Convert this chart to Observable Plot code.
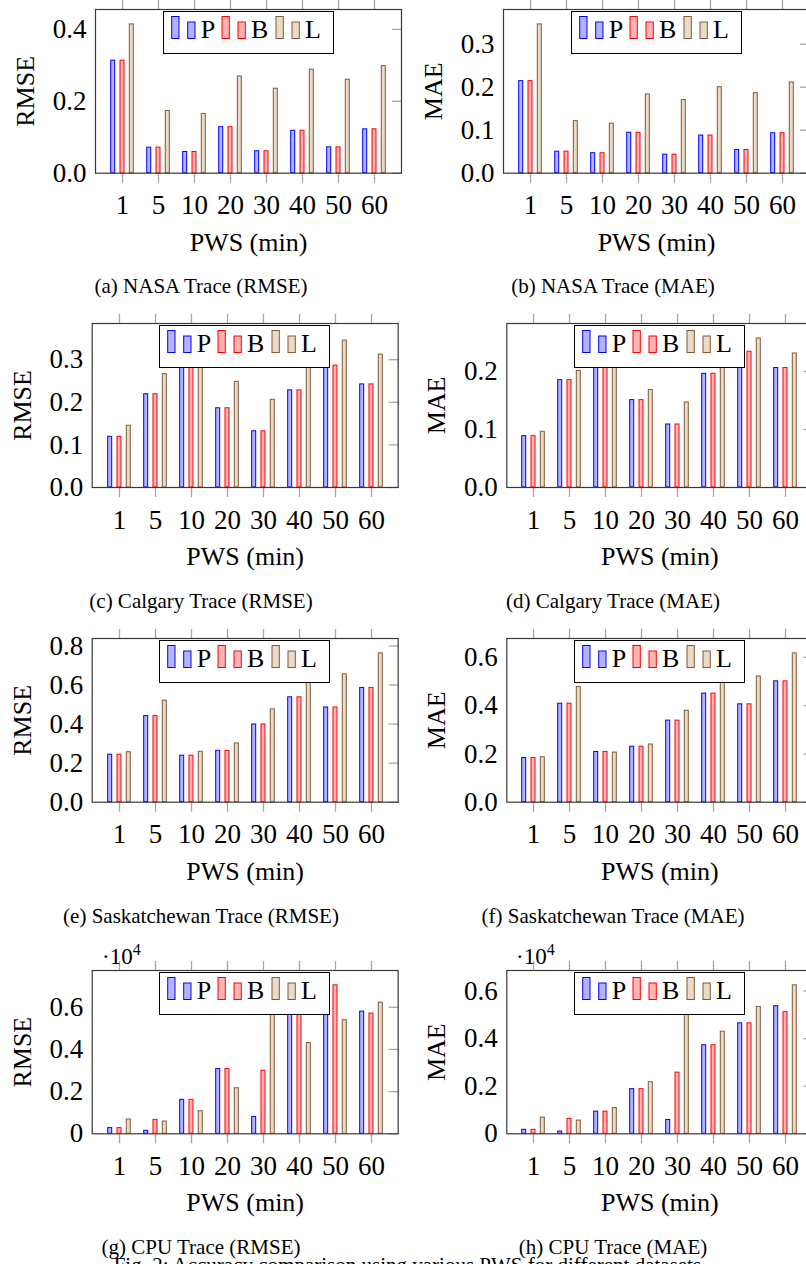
<!DOCTYPE html>
<html>
<head>
<meta charset="utf-8">
<script src="https://cdn.jsdelivr.net/npm/d3@7"></script>
<script src="https://cdn.jsdelivr.net/npm/@observablehq/plot@0.6"></script>
<style>
html, body { margin: 0; padding: 0; background: #fff; }
#page { position: relative; width: 806px; height: 1264px; overflow: hidden; background: #fff;
        font-family: "Liberation Serif", "Times New Roman", serif; color: #000; }
.caption { position: absolute; font-family: "Liberation Serif", serif; font-size: 21px; line-height: 21px; white-space: nowrap; transform: translateX(-50%); }
.legend { position: absolute; width: 171px; height: 43px; box-sizing: border-box; border: 1.2px solid #000; background: #fff; }
.legend svg, .expo { position: absolute; left: 0; top: 0; overflow: visible; }
svg text { font-family: "Liberation Serif", serif; }
</style>
</head>
<body>
<div id="page"></div>
<script>
// ---------- data ----------
const pwsLabels = ["1", "5", "10", "20", "30", "40", "50", "60"];
const seriesNames = ["P", "B", "L"];

// (a) NASA RMSE
const nasaRmseP = [0.313, 0.071, 0.059, 0.128, 0.061, 0.118, 0.072, 0.122];
const nasaRmseB = [0.313, 0.071, 0.059, 0.128, 0.061, 0.118, 0.072, 0.122];
const nasaRmseL = [0.414, 0.173, 0.165, 0.269, 0.235, 0.288, 0.260, 0.298];
// (b) NASA MAE
const nasaMaeP = [0.214, 0.050, 0.0465, 0.094, 0.043, 0.0876, 0.054, 0.093];
const nasaMaeB = [0.214, 0.050, 0.0465, 0.094, 0.043, 0.0876, 0.054, 0.093];
const nasaMaeL = [0.346, 0.121, 0.115, 0.183, 0.170, 0.200, 0.186, 0.211];
// (c) Calgary RMSE
const calgRmseP = [0.119, 0.219, 0.305, 0.186, 0.132, 0.228, 0.286, 0.242];
const calgRmseB = [0.119, 0.219, 0.305, 0.186, 0.132, 0.228, 0.286, 0.242];
const calgRmseL = [0.145, 0.266, 0.350, 0.248, 0.206, 0.300, 0.345, 0.312];
// (d) Calgary MAE
const calgMaeP = [0.0885, 0.185, 0.220, 0.1506, 0.1086, 0.196, 0.234, 0.206];
const calgMaeB = [0.0885, 0.185, 0.220, 0.1506, 0.1086, 0.196, 0.234, 0.206];
const calgMaeL = [0.096, 0.201, 0.235, 0.168, 0.1466, 0.215, 0.257, 0.231];
// (e) Saskatchewan RMSE
const saskRmseP = [0.243, 0.441, 0.238, 0.263, 0.398, 0.537, 0.485, 0.585];
const saskRmseB = [0.243, 0.441, 0.238, 0.263, 0.398, 0.537, 0.485, 0.585];
const saskRmseL = [0.256, 0.520, 0.258, 0.301, 0.475, 0.620, 0.655, 0.762];
// (f) Saskatchewan MAE
const saskMaeP = [0.183, 0.408, 0.208, 0.230, 0.338, 0.450, 0.4055, 0.5007];
const saskMaeB = [0.183, 0.408, 0.208, 0.230, 0.338, 0.450, 0.4055, 0.5007];
const saskMaeL = [0.186, 0.477, 0.2055, 0.239, 0.379, 0.510, 0.521, 0.6166];
// (g) CPU RMSE (x 10^4)
const cpuRmseP = [0.027, 0.014, 0.161, 0.307, 0.080, 0.600, 0.600, 0.5795];
const cpuRmseB = [0.027, 0.066, 0.161, 0.307, 0.299, 0.600, 0.704, 0.570];
const cpuRmseL = [0.068, 0.058, 0.107, 0.216, 0.620, 0.430, 0.5386, 0.622];
// (h) CPU MAE (x 10^4)
const cpuMaeP = [0.0167, 0.0097, 0.093, 0.1875, 0.058, 0.372, 0.464, 0.536];
const cpuMaeB = [0.0167, 0.0625, 0.093, 0.1875, 0.257, 0.372, 0.464, 0.511];
const cpuMaeL = [0.068, 0.0556, 0.108, 0.2167, 0.550, 0.429, 0.533, 0.6236];

const ticksA = [0, 0.2, 0.4];
const ticksB = [0, 0.1, 0.2, 0.3];
const ticksC = [0, 0.1, 0.2, 0.3];
const ticksD = [0, 0.1, 0.2];
const ticksE = [0, 0.2, 0.4, 0.6, 0.8];
const ticksF = [0, 0.2, 0.4, 0.6];
const ticksG = [0, 0.2, 0.4, 0.6];
const ticksH = [0, 0.2, 0.4, 0.6];

const captions = [
  "(a) NASA Trace (RMSE)", "(b) NASA Trace (MAE)",
  "(c) Calgary Trace (RMSE)", "(d) Calgary Trace (MAE)",
  "(e) Saskatchewan Trace (RMSE)", "(f) Saskatchewan Trace (MAE)",
  "(g) CPU Trace (RMSE)", "(h) CPU Trace (MAE)"
];
const figCaption = "Fig. 2: Accuracy comparison using various PWS for different datasets.";

// ---------- styles ----------
const fills = {P: "#b3b3ff", B: "#ffb3b3", L: "#ecd9c6"};
const strokes = {P: "#0000ff", B: "#ff0000", L: "#7f5b38"};
const shifts = {P: -9.3, B: 0, L: 9.3};
const tickGray = "#a6a6a6";
const frameColor = "#3a3a3a";
const fmt1 = d3.format(".1f");
const fmtCpu = d => d === 0 ? "0" : d3.format(".1f")(d);

const panels = [
  {vals: {P: nasaRmseP, B: nasaRmseB, L: nasaRmseL}, ticks: ticksA, fmt: fmt1, ylabel: "RMSE", col: 0, L: 95,    T: 9,     B: 172.7},
  {vals: {P: nasaMaeP,  B: nasaMaeB,  L: nasaMaeL},  ticks: ticksB, fmt: fmt1, ylabel: "MAE",  col: 1, L: 503,   T: 9,     B: 172.7},
  {vals: {P: calgRmseP, B: calgRmseB, L: calgRmseL}, ticks: ticksC, fmt: fmt1, ylabel: "RMSE", col: 0, L: 91.7,  T: 323.3, B: 487.3},
  {vals: {P: calgMaeP,  B: calgMaeB,  L: calgMaeL},  ticks: ticksD, fmt: fmt1, ylabel: "MAE",  col: 1, L: 506.3, T: 323.3, B: 487.3},
  {vals: {P: saskRmseP, B: saskRmseB, L: saskRmseL}, ticks: ticksE, fmt: fmt1, ylabel: "RMSE", col: 0, L: 91.7,  T: 638.3, B: 802},
  {vals: {P: saskMaeP,  B: saskMaeB,  L: saskMaeL},  ticks: ticksF, fmt: fmt1, ylabel: "MAE",  col: 1, L: 506.3, T: 638.3, B: 802},
  {vals: {P: cpuRmseP,  B: cpuRmseB,  L: cpuRmseL},  ticks: ticksG, fmt: fmtCpu, ylabel: "RMSE", col: 0, L: 91.7,  T: 970, B: 1133.3, expo: true},
  {vals: {P: cpuMaeP,   B: cpuMaeB,   L: cpuMaeL},   ticks: ticksH, fmt: fmtCpu, ylabel: "MAE",  col: 1, L: 506.3, T: 970, B: 1133.3, expo: true}
];

const page = document.getElementById("page");
const FRAME_W = 306;
const PAD_IN = 0.89, PAD_OUT = 0.63;
const FONT = "Liberation Serif";

panels.forEach((p, idx) => {
  const rows = [];
  seriesNames.forEach(s => p.vals[s].forEach((v, i) => rows.push({pws: pwsLabels[i], series: s, value: v})));
  const ymax = 1.1 * d3.max(rows, d => d.value);
  const svgLeft = p.col === 0 ? 0 : 403;
  const mL = p.L - svgLeft, mR = 20, mT = 30, mB = 100;
  const plotH = p.B - p.T;

  const chart = Plot.plot({
    width: mL + FRAME_W + mR,
    height: mT + plotH + mB,
    marginLeft: mL, marginRight: mR, marginTop: mT, marginBottom: mB,
    style: {fontFamily: FONT, fontSize: "26px", background: "transparent", overflow: "visible", color: "#000", maxWidth: "none"},
    x: {type: "band", domain: pwsLabels, paddingInner: PAD_IN, paddingOuter: PAD_OUT, align: 0.5},
    y: {domain: [0, ymax]},
    marks: [
      ...seriesNames.map(s => Plot.barY(rows.filter(d => d.series === s), {
        x: "pws", y: "value", fill: fills[s], stroke: strokes[s], strokeWidth: 1, dx: shifts[s], inset: 0
      })),
      Plot.axisX({anchor: "top", tickSize: 10, tickFormat: () => "", stroke: tickGray, strokeWidth: 1.3, label: null}),
      Plot.axisX({anchor: "bottom", tickSize: 10, tickPadding: 12, stroke: tickGray, strokeWidth: 1.3, fill: "#000",
                  fontFamily: FONT, fontSize: 27, label: null}),
      Plot.axisY({anchor: "left", ticks: p.ticks, tickSize: 0, tickPadding: 9, tickFormat: p.fmt, fill: "#000",
                  fontFamily: FONT, fontSize: 27, label: null}),
      Plot.axisY({anchor: "right", ticks: p.ticks, tickSize: 10, dx: -10, tickFormat: () => "", stroke: tickGray, strokeWidth: 1.3, label: null}),
      Plot.frame({stroke: frameColor, strokeWidth: 1.2}),
      Plot.text([p.ylabel], {frameAnchor: "left", dx: -70, rotate: -90, textAnchor: "middle", lineAnchor: "middle",
                             text: d => d, fill: "#000", fontFamily: FONT, fontSize: 26}),
      Plot.text(["PWS (min)"], {frameAnchor: "bottom", dy: 69, textAnchor: "middle", lineAnchor: "middle",
                                text: d => d, fill: "#000", fontFamily: FONT, fontSize: 26})
    ]
  });
  chart.style.position = "absolute";
  chart.style.left = svgLeft + "px";
  chart.style.top = (p.T - mT) + "px";
  page.appendChild(chart);

  // legend (pgfplots style, north-centered inside the axis box)
  const leg = document.createElement("div");
  leg.className = "legend";
  leg.style.left = (p.L + FRAME_W / 2 - 85.5) + "px";
  leg.style.top = (p.T + 2) + "px";
  const ls = d3.create("svg").attr("width", 171).attr("height", 43);
  const offsets = {P: 7.2, B: 57.5, L: 111.5};
  seriesNames.forEach(s => {
    const o = offsets[s];
    ls.append("rect").attr("x", o + 0.5).attr("y", 4.5).attr("width", 7.3).attr("height", 22)
      .attr("fill", fills[s]).attr("stroke", strokes[s]).attr("stroke-width", 1);
    ls.append("rect").attr("x", o + 16.5).attr("y", 10).attr("width", 7.3).attr("height", 16.5)
      .attr("fill", fills[s]).attr("stroke", strokes[s]).attr("stroke-width", 1);
    ls.append("text").attr("x", o + 29.5).attr("y", 26.3).style("font-family", FONT).style("font-size", "26px")
      .attr("fill", "#000").text(s);
  });
  leg.appendChild(ls.node());
  page.appendChild(leg);

  // x10^4 scale label
  if (p.expo) {
    const ex = d3.create("svg").attr("class", "expo").attr("width", 1).attr("height", 1)
      .style("left", (p.L + 10) + "px").style("top", (p.T - 6) + "px");
    const t = ex.append("text").attr("x", 0).attr("y", 0).style("font-family", FONT).style("font-size", "23px").attr("fill", "#000");
    t.append("tspan").text("\u00B710");
    t.append("tspan").attr("dy", -9).style("font-size", "16px").text("4");
    page.appendChild(ex.node());
  }

  // sub-caption
  const cap = document.createElement("div");
  cap.className = "caption";
  cap.textContent = captions[idx];
  cap.style.left = (p.col === 0 ? 201 : 613) + "px";
  cap.style.top = (p.B + 114 - 10.5) + "px";
  page.appendChild(cap);
});

const fig = document.createElement("div");
fig.className = "caption";
fig.textContent = figCaption;
fig.style.left = "410px";
fig.style.top = "1255px";
page.appendChild(fig);
</script>
</body>
</html>
